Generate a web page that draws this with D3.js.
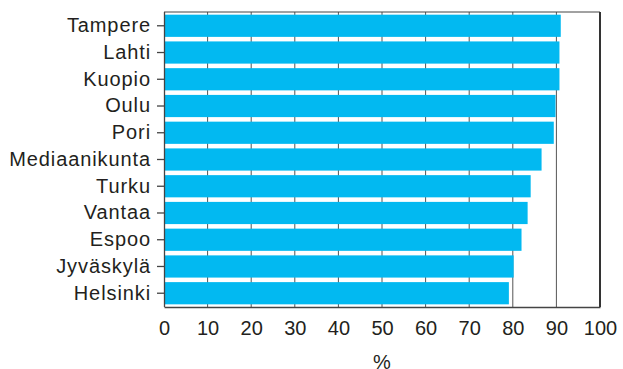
<!DOCTYPE html>
<meta charset="utf-8">
<script src="https://cdn.jsdelivr.net/npm/d3@7"></script>
<style>
  body { margin: 0; background: #fff; }
  text { font-family: "Liberation Sans", Arial, sans-serif; fill: #231f20; }
</style>
<svg></svg>
<script>
    var cities = ['Tampere', 'Lahti', 'Kuopio', 'Oulu', 'Pori', 'Mediaanikunta',
        'Turku', 'Vantaa', 'Espoo', 'Jyväskylä', 'Helsinki'];
    var values = [91.0, 90.7, 90.7, 89.8, 89.4, 86.6, 84.1, 83.4, 82.0, 80.2, 79.1];
    var xTicks = [0, 10, 20, 30, 40, 50, 60, 70, 80, 90, 100];

    var width = 623, height = 369;
    var mLeft = 164, mRight = 600, mTop = 12, mBottom = 307;
    var svg = d3.select('svg').attr('width', width).attr('height', height);

    var x = d3.scaleLinear().domain([0, 100]).range([mLeft, mRight]);
    var y = d3.scaleBand().domain(cities).range([mTop, mBottom]).paddingInner(0.17).paddingOuter(0.1);

    // gridlines behind bars
    svg.selectAll('line.grid').data(xTicks.slice(1, -1)).enter().append('line')
        .attr('class', 'grid')
        .attr('x1', d => x(d)).attr('x2', d => x(d))
        .attr('y1', mTop).attr('y2', mBottom)
        .attr('stroke', '#555').attr('stroke-width', 1);

    svg.selectAll('rect.bar').data(values).enter().append('rect')
        .attr('class', 'bar')
        .attr('x', x(0))
        .attr('y', (d, i) => y(cities[i]))
        .attr('width', d => x(d) - x(0))
        .attr('height', y.bandwidth())
        .attr('fill', '#02b9f1');

    // frame
    svg.append('line').attr('x1', mLeft).attr('x2', mRight).attr('y1', mTop).attr('y2', mTop)
        .attr('stroke', '#444').attr('stroke-width', 1);
    svg.append('line').attr('x1', mRight).attr('x2', mRight).attr('y1', mTop).attr('y2', mBottom)
        .attr('stroke', '#333').attr('stroke-width', 2);

    var yAxis = d3.axisLeft(y).tickSize(7).tickPadding(6);
    var gy = svg.append('g').attr('transform', 'translate(' + mLeft + ',0)').call(yAxis);
    gy.select('.domain').attr('stroke', '#444').attr('stroke-width', 1.3).attr('d', 'M0.5,' + mTop + 'V' + mBottom);
    gy.selectAll('.tick line').attr('stroke', '#444').attr('stroke-width', 1.3);
    gy.selectAll('text').style('font-size', '20px').style('letter-spacing', '0.9px').attr('fill', '#231f20');

    var xAxis = d3.axisBottom(x).tickValues(xTicks).tickSize(0).tickPadding(14);
    var gx = svg.append('g').attr('transform', 'translate(0,' + mBottom + ')').call(xAxis);
    gx.select('.domain').attr('stroke', '#444').attr('stroke-width', 1.3);
    gx.selectAll('text').style('font-size', '20px').attr('fill', '#231f20');

    svg.append('text').attr('x', (mLeft + mRight) / 2).attr('y', 369)
        .attr('text-anchor', 'middle').style('font-size', '20px').text('%');
</script>
